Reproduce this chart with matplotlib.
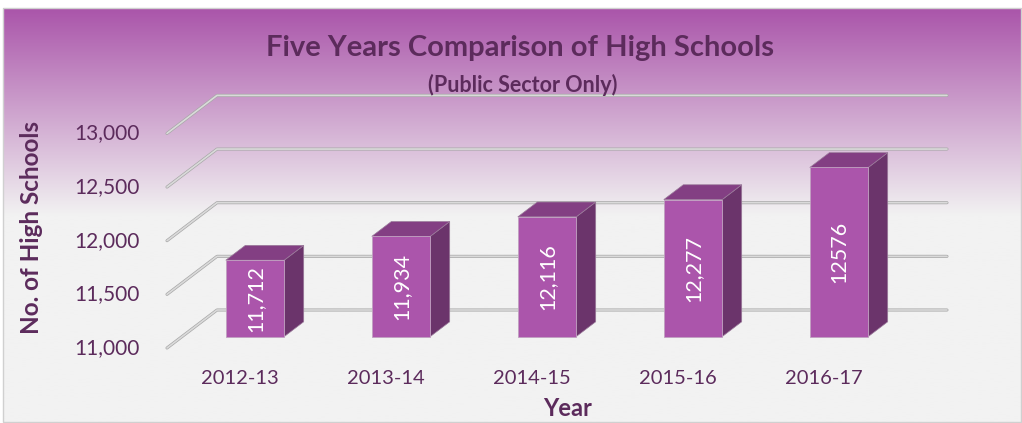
import numpy as np
import matplotlib
matplotlib.use("Agg")
import matplotlib.pyplot as plt
from matplotlib.patches import Polygon, Rectangle
from matplotlib.colors import to_rgb

# Dados
years = ["2012-13", "2013-14", "2014-15", "2015-16", "2016-17"]
schools = [11712, 11934, 12116, 12277, 12576]
bar_labels = ["11,712", "11,934", "12,116", "12,277", "12576"]
yticks = [11000, 11500, 12000, 12500, 13000]
ytick_labels = ["11,000", "11,500", "12,000", "12,500", "13,000"]

W, H = 1022, 423
plt.rcParams["font.family"] = ["Lato", "DejaVu Sans"]
text_col = "#5C2B5C"

fig = plt.figure(figsize=(W / 100, H / 100), dpi=100)

# Fundo com gradiente (roxo -> cinza claro)
bg = fig.add_axes([0, 0, 1, 1])
bg.set_xlim(0, W)
bg.set_ylim(H, 0)
bg.axis("off")
top = np.array(to_rgb("#AA55AA"))
bottom = np.array(to_rgb("#F2F2F2"))
rows = np.linspace(0, 1, 300)
t = np.clip(rows / 0.5, 0, 1)[:, None]
grad = (top * (1 - t) + bottom * t)[:, None, :]
bg.imshow(grad, extent=(3, W, H, 8), aspect="auto", interpolation="bilinear")
bg.add_patch(Rectangle((3, 8), W - 4, H - 9, fill=False, ec="#D0D0D0", lw=1))

# Eixo principal: x em categorias, y em valores
ax = fig.add_axes([0, 0, 1, 1])
ax.patch.set_alpha(0)
px_slot = 146.0
px_per_val = 107.3 / 1000
x0_px, y0_px = 167, 348
ax.set_xlim(-x0_px / px_slot, (W - x0_px) / px_slot)
ax.set_ylim(11000 - (H - y0_px) / px_per_val, 11000 + y0_px / px_per_val)
ax.axis("off")

DX = 50 / px_slot
DY = 38 / px_per_val
n = len(years)

# Linhas de grade em perspectiva
for v in yticks:
    ax.plot([0, DX, n + DX], [v, v + DY, v + DY], color="#A8A8A8", lw=2.2,
            solid_capstyle="round", zorder=1)
    ax.plot([0, DX, n + DX], [v, v + DY, v + DY], color="#DADADA", lw=1.2,
            solid_capstyle="round", zorder=1.1)

for v, lab in zip(yticks, ytick_labels):
    ax.text(-0.19, v, lab, ha="right", va="center", fontsize=15, color=text_col)

# Barras 3D
d_front, d_back = 0.3, 0.69
bw = 0.4
for i, (val, lab) in enumerate(zip(schools, bar_labels)):
    xl = i + 0.5 - bw / 2 + d_front * DX
    xr = xl + bw
    b = 11000 + d_front * DY
    tp = val + d_front * DY
    dx = (d_back - d_front) * DX
    dy = (d_back - d_front) * DY
    ax.add_patch(Polygon([(xr, b), (xr + dx, b + dy), (xr + dx, tp + dy), (xr, tp)],
                         closed=True, fc="#6B346B", ec="#9A7A9A", lw=0.5, zorder=3))
    ax.add_patch(Polygon([(xl, tp), (xr, tp), (xr + dx, tp + dy), (xl + dx, tp + dy)],
                         closed=True, fc="#833F83", ec="#9A7A9A", lw=0.5, zorder=3))
    ax.add_patch(Rectangle((xl, b), bw, tp - b, fc="#AB55AB", ec="#C0A0C0", lw=0.6, zorder=4))
    ax.text(xl + bw / 2, (b + tp) / 2, lab, rotation=90, ha="center", va="center",
            fontsize=15.5, color="white", zorder=5)

for i, yr in enumerate(years):
    ax.text(i + 0.5, 11000 - 30 / px_per_val, yr, ha="center", va="center",
            fontsize=14.5, color=text_col)

# Títulos
fig.text(520 / W, 1 - 48 / H, "Five Years Comparison of High Schools", ha="center",
         va="center", fontsize=21, fontweight="bold", color=text_col)
fig.text(523 / W, 1 - 85 / H, "(Public Sector Only)", ha="center", va="center",
         fontsize=15.5, fontweight="bold", color=text_col)
fig.text(32 / W, 1 - 228 / H, "No. of High Schools", rotation=90, ha="center",
         va="center", fontsize=17.5, fontweight="bold", color=text_col)
fig.text(568 / W, 1 - 408 / H, "Year", ha="center", va="center", fontsize=17,
         fontweight="bold", color=text_col)

fig.savefig("out.png", dpi=100)
